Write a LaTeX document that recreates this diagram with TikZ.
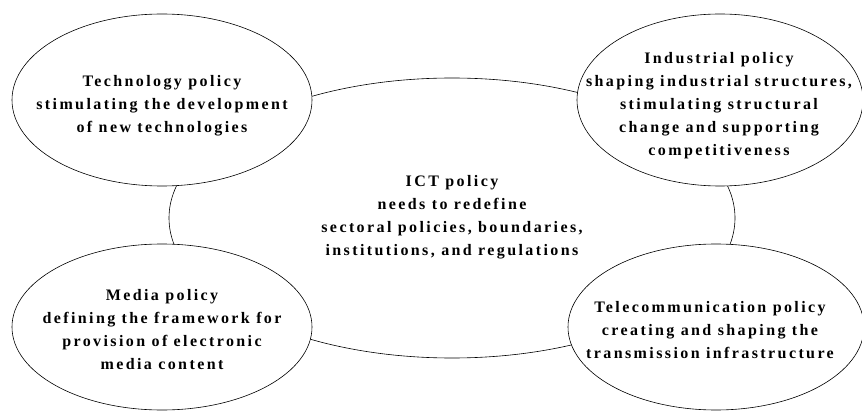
\documentclass[tikz,border=0pt]{standalone}
\usepackage{fontspec}
\newfontfamily\policyfont{Liberation Serif}[LetterSpace=15]
\usetikzlibrary{shapes.geometric}
\tikzset{
  bubble/.style={draw, ellipse, fill=white, inner sep=0pt, line width=0.6pt},
  policy/.style={align=center, font=\policyfont\bfseries\fontsize{16}{23}\selectfont}
}
\begin{document}
\begin{tikzpicture}[x=1pt,y=1pt]
        \useasboundingbox (0,0) rectangle (862,410);
        % the big one behind
        \node[bubble, minimum width=566pt, minimum height=280pt] (ict) at (452,192) {};
        \node[policy] (ictTxt) at (452,193) {ICT policy\\needs to redefine\\sectoral policies, boundaries,\\institutions, and regulations};
        % four corners
        \node[bubble, minimum width=300pt, minimum height=172pt] (tech) at (162,310) {};
        \node[bubble, minimum width=286pt, minimum height=172pt] (ind) at (720,310) {};
        \node[bubble, minimum width=300pt, minimum height=166pt] (media) at (162,83) {};
        \node[bubble, minimum width=296pt, minimum height=166pt] (tele) at (716,83) {};
        \node[policy] (techTxt) at ([yshift=-6pt]tech.center) {Technology policy\\stimulating the development\\of new technologies};
        \node[policy] (indTxt) at ([xshift=-1pt,yshift=-6pt]ind.center) {Industrial policy\\shaping industrial structures,\\stimulating structural\\change and supporting\\competitiveness};
        \node[policy] (mediaTxt) at ([yshift=-3pt]media.center) {Media policy\\defining the framework for\\provision of electronic\\media content};
        \node[policy] (teleTxt) at ([xshift=-6pt,yshift=-3pt]tele.center) {Telecommunication policy\\creating and shaping the\\transmission infrastructure};
\end{tikzpicture}
\end{document}
